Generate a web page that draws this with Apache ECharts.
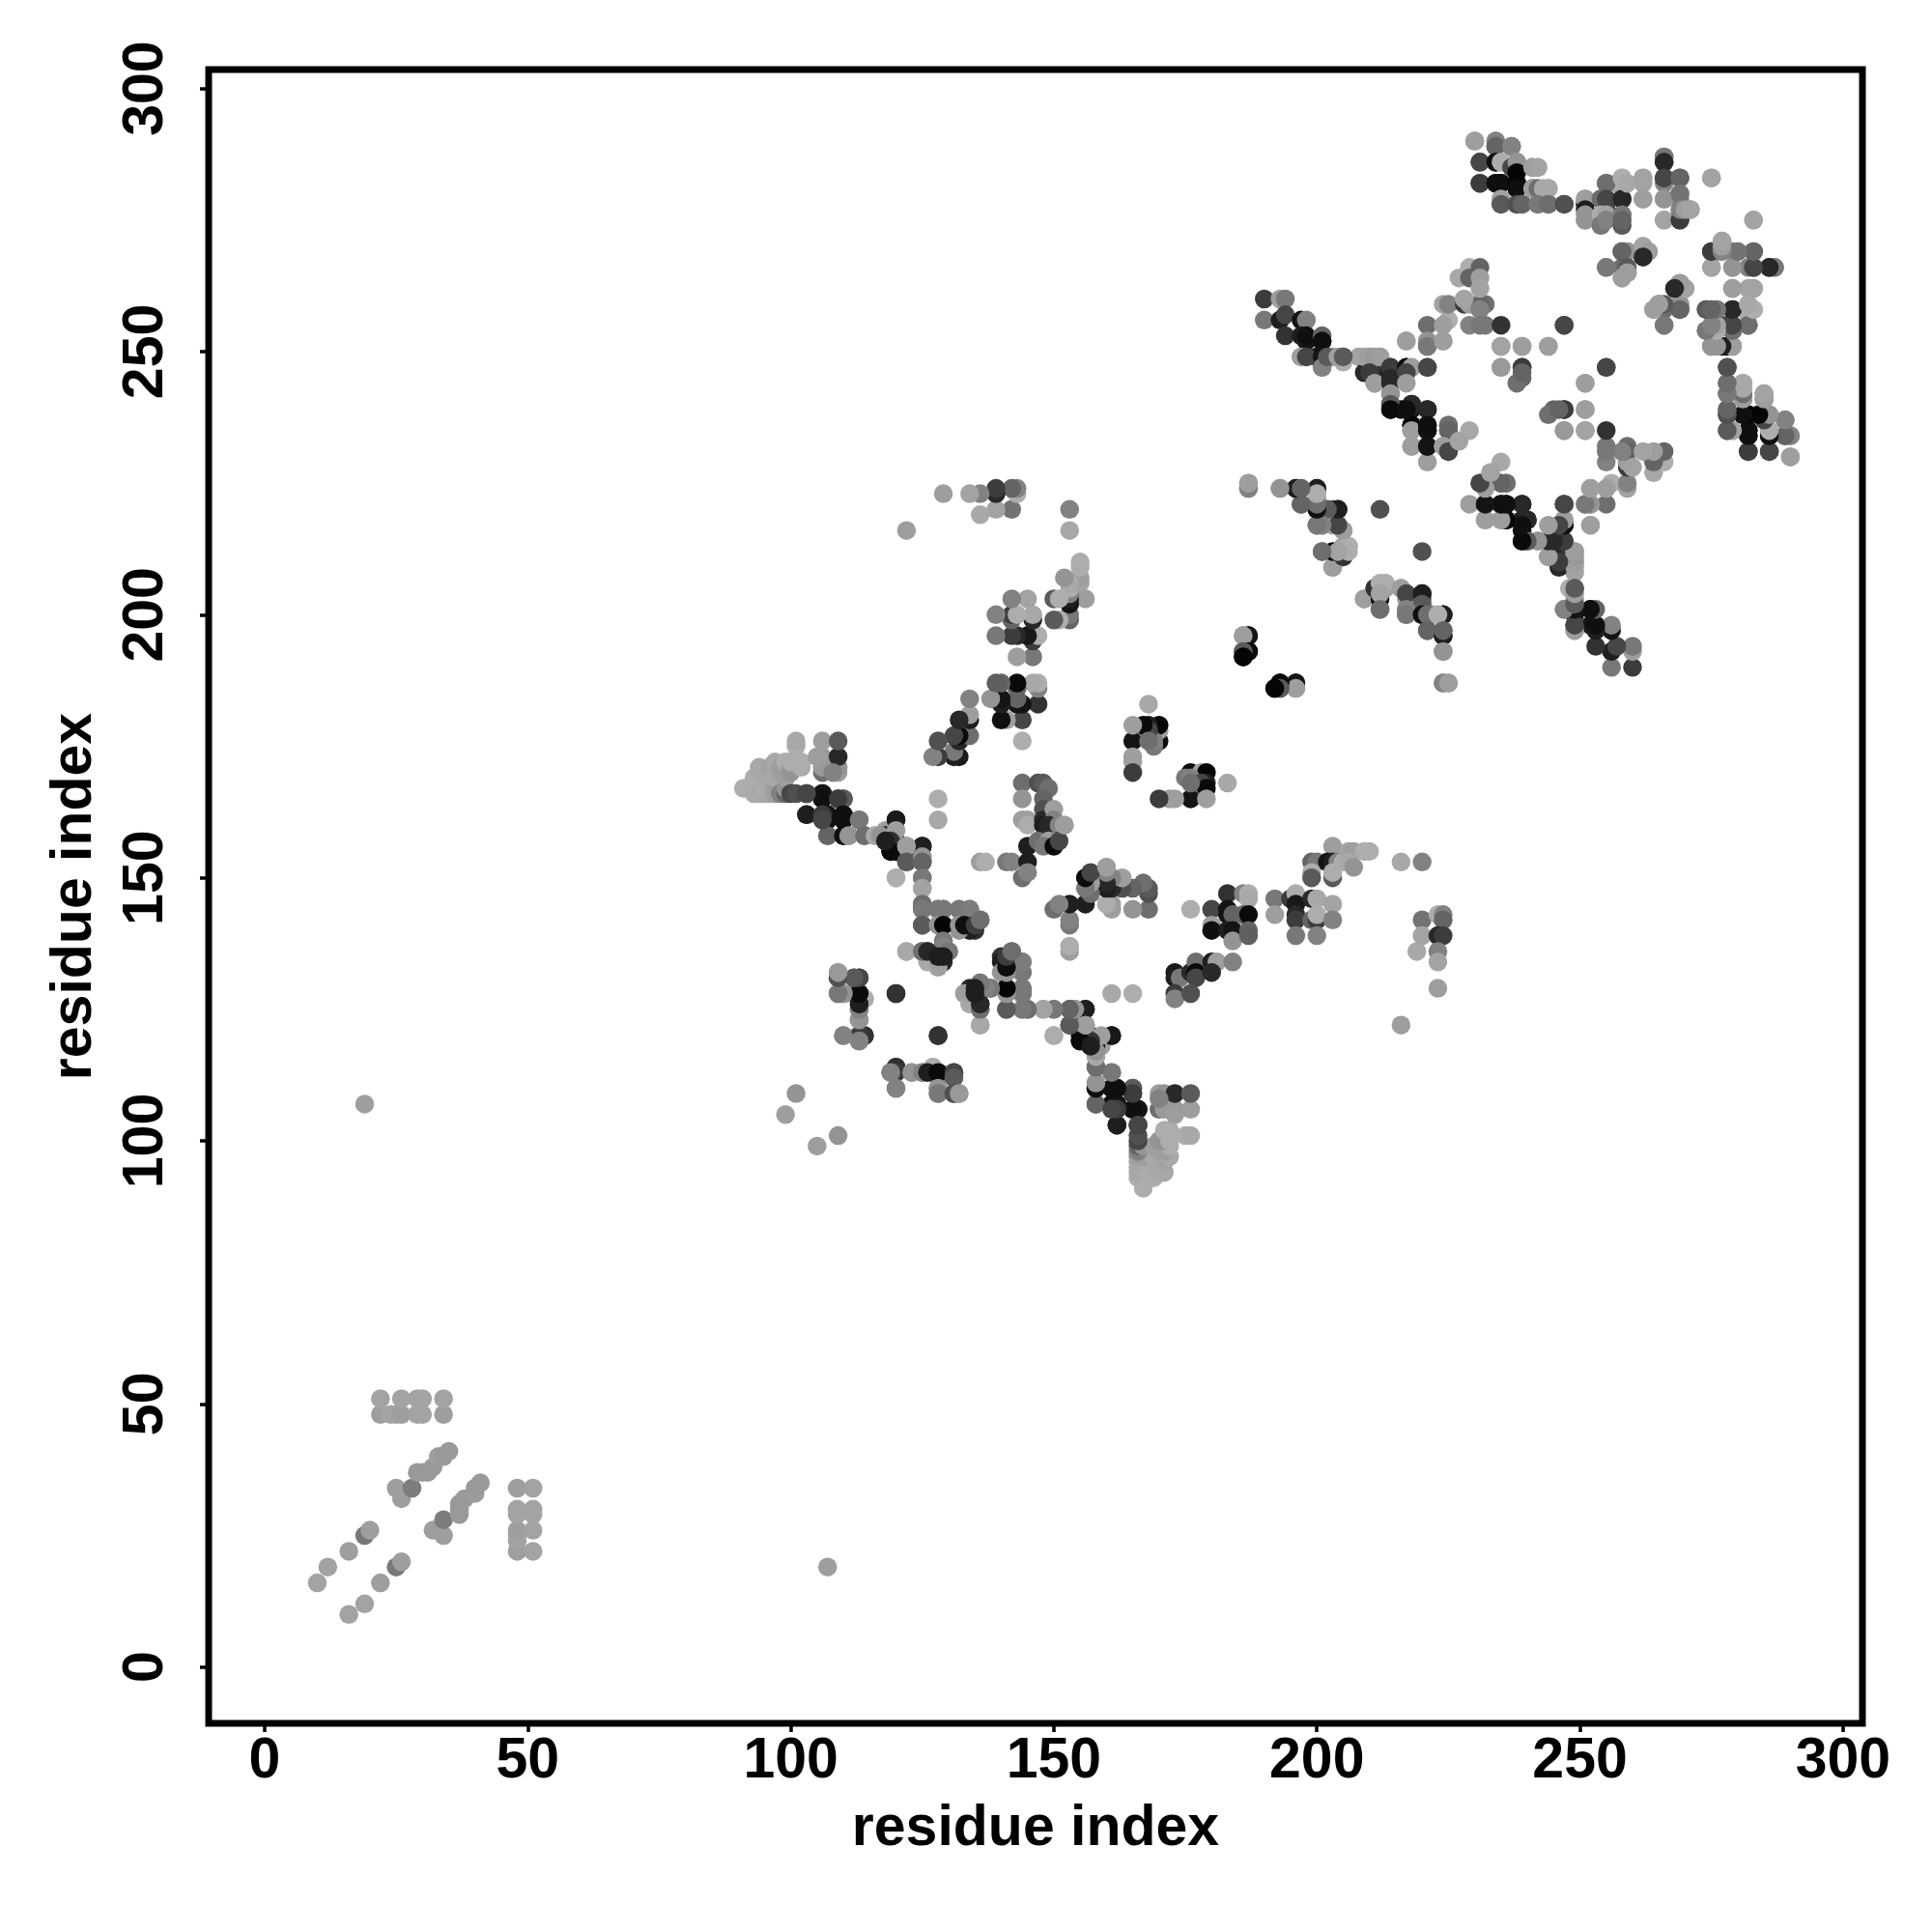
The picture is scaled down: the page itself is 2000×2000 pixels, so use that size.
<!DOCTYPE html>
<html><head><meta charset="utf-8">
<style>html,body{margin:0;padding:0;background:#fff}#c{width:2000px;height:2000px}</style>
<script src="https://cdn.jsdelivr.net/npm/echarts@6/dist/echarts.min.js"></script>
</head><body><div id="c"></div>
<script>
const tickValues=[0,50,100,150,200,250,300];
const axisTitle="residue index";
// contacts as [residue a, residue b, grey level]; the map is symmetric about the diagonal
const nearOrigin=[[16,10,155],[19,12,155],[22,16,150],[25,19,120],[26,20,150],[32,26,150],[34,25,150],[34,28,125],[37,29,145],[37,30,145],[37,31,145],[38,32,145],[40,33,150],[40,34,145],[41,35,145],[48,22,150],[51,22,155],[48,24,155],[48,25,155],[48,26,150],[51,26,155],[48,29,155],[51,29,155],[48,30,155],[51,30,155],[48,34,150],[51,34,155],[107,19,150]];
const lightColumn=[[167,91,165],[166,93,165],[167,93,165],[168,93,165],[169,93,165],[166,94,160],[170,94,160],[171,94,160],[166,95,160],[167,95,165],[169,95,160],[166,96,160],[170,96,160],[171,96,155],[166,97,150],[167,97,150],[169,97,160],[172,97,160],[166,98,130],[170,98,155],[171,98,150],[166,99,100],[167,99,140],[169,99,150],[172,99,165],[166,100,70],[170,100,140],[171,100,140],[172,100,165],[166,101,80],[171,102,165],[172,102,165],[175,101,165],[176,101,160],[166,103,50],[162,103,30],[109,101,140],[105,99,150],[170,106,110],[171,106,145],[173,106,145],[176,106,150],[170,109,150],[171,109,140],[173,109,40],[176,109,90],[173,105,150],[170,108,130]];
const stemRows=[[158,107,90],[158,110,10],[158,111,130],[158,114,90],[161,113,140],[158,116,150],[161,107,10],[162,106,150],[162,107,60],[161,110,15],[162,110,15],[165,110,90],[165,109,40],[165,106,5],[166,106,20],[159,118,150],[157,118,20],[158,118,20],[155,119,5],[155,120,10],[157,120,40],[161,120,20],[150,120,165],[153,122,90],[154,122,70],[156,122,150],[141,125,80],[144,125,120],[145,125,100],[148,125,150],[150,125,130],[153,125,90],[154,125,130],[156,125,30],[161,128,160],[165,128,165]];
const midRows=[[142,136,120],[140,135,50],[140,134,30],[141,134,30],[144,134,125],[144,132,130],[140,132,140],[141,132,130],[141,129,10],[144,129,110],[144,128,80],[136,130,110],[134,129,40],[135,129,40],[138,129,125],[133,128,150],[136,126,40],[136,125,70],[134,126,160],[136,122,160],[153,136,150],[153,137,165],[153,141,120],[153,142,130]];
const leftBlock=[[109,132,150],[109,131,100],[112,131,110],[113,131,70],[109,128,140],[110,128,150],[112,128,130],[113,128,10],[114,127,150],[113,125,120],[113,123,130],[110,120,130],[113,120,40],[114,120,40],[113,119,100],[120,128,50],[128,120,50],[120,114,50],[120,113,60],[119,113,130],[123,113,140],[125,113,130],[127,114,165],[126,113,30],[128,113,10],[131,113,70],[131,112,90],[120,110,130],[128,110,140],[128,109,120],[131,109,80],[132,109,145]];
const crossArm=[[103,162,30],[106,166,20],[106,165,15],[103,166,70],[107,162,20],[106,162,60],[110,165,90],[109,165,60],[110,162,15],[110,161,15],[113,161,120],[107,158,100],[110,158,15],[111,158,140],[106,161,70],[114,158,110],[116,158,160],[117,158,140],[120,161,25],[120,159,150],[119,157,50],[119,155,10],[118,157,30],[122,156,150],[125,156,30]];
const tail=[[122,156,150],[122,153,90],[125,154,140],[125,153,100],[125,150,120],[125,148,155],[125,145,110],[125,144,120],[125,141,90],[128,144,120],[129,144,120],[132,144,120],[134,144,125],[128,141,140],[129,141,5],[132,141,140],[133,141,15],[135,141,60],[136,142,110],[129,138,120],[129,137,130],[130,136,120],[122,136,160],[125,136,110],[126,136,40],[128,134,150],[128,135,30],[129,135,30],[120,150,165]];
const stairRows=[[156,145,30],[153,145,30],[150,144,110],[151,145,130],[168,144,110],[165,144,140],[161,144,150],[161,145,150],[160,145,165],[168,147,80],[168,148,90],[167,149,110],[165,148,100],[163,148,80],[161,148,40],[163,150,150],[161,150,130],[160,148,30],[160,149,40],[160,151,130],[160,152,155],[157,147,110],[157,149,150],[156,148,120],[156,150,10],[157,151,70],[152,160,150]];
const centerTop=[[183,147,50],[186,147,130],[187,147,165],[187,146,160],[180,144,70],[176,144,165],[183,144,20],[180,141,150],[180,140,15],[183,143,20],[184,143,100],[186,143,100],[187,143,10],[183,140,30],[184,140,20],[184,138,140],[187,140,100],[187,139,95],[192,146,120],[192,143,150],[195,146,60],[196,147,165],[196,145,25],[196,143,40],[196,142,60],[196,139,120],[199,146,40],[200,146,160],[203,145,155],[199,142,100],[200,142,60],[200,143,165],[203,142,130],[200,139,130]];
const centerHigh=[[199,153,100],[200,153,120],[199,151,165],[199,150,90],[203,156,150],[202,153,20],[203,153,30],[204,153,130],[203,150,90],[203,151,165],[205,153,165],[206,155,155],[207,155,150],[209,155,165],[210,155,165],[206,153,160],[207,152,140],[216,153,160],[220,153,130]];
const centerFar=[[220,142,115],[223,143,165],[224,143,130],[224,142,100],[220,139,155],[223,139,40],[224,139,60],[219,136,160],[223,136,130],[223,134,155],[223,129,150],[216,122,150]];
const centerLow=[[173,132,25],[173,131,30],[174,131,120],[176,132,40],[177,134,110],[177,132,10],[177,131,70],[180,134,30],[181,134,150],[180,132,40],[184,134,130],[173,128,60],[173,127,130],[176,128,80]];
const nearDiagonal=[[176,170,10],[178,170,150],[179,170,5],[175,169,120],[176,169,130],[179,168,30],[178,168,70],[179,167,10],[183,168,160],[176,165,20],[179,165,150],[172,165,150],[173,165,150],[170,165,60],[176,168,110]];
const midRightA=[[187,225,165],[187,224,140],[193,224,140],[196,224,50],[197,224,100],[200,224,40],[200,222,140],[197,221,100],[200,220,40],[201,220,130],[203,220,100],[204,220,40],[200,217,130],[201,217,130],[203,217,155],[204,217,70],[205,216,155],[201,212,100],[204,212,150],[205,213,155],[206,213,160],[204,211,30],[205,211,60],[203,209,150],[212,220,80]];
const midRightB=[[209,203,150],[211,205,50],[212,203,10],[212,206,165],[213,206,165],[212,204,155],[212,201,110],[216,205,150],[217,204,70],[220,204,30],[220,202,90],[217,201,130],[217,200,120],[220,200,15],[221,200,110],[224,200,30],[223,200,165],[221,197,100],[224,196,30],[224,197,100],[224,193,140],[224,187,130],[225,187,150]];
const isolated=[[196,187,20],[196,186,130],[193,187,10],[193,186,90],[192,186,5],[187,196,20],[186,196,150],[187,193,10],[186,193,90],[186,192,5]];
const lowerBridge=[[229,221,150],[232,225,10],[231,225,100],[233,227,160],[235,229,160],[235,225,100],[236,225,120],[232,221,25],[235,221,15],[236,221,15],[239,221,30],[232,218,150],[235,218,150],[236,218,5],[239,218,30],[240,218,50],[239,216,15],[239,214,10],[240,214,100],[242,214,150],[244,214,155],[244,211,150],[245,214,40],[247,221,70],[247,218,165],[247,217,10],[247,214,70],[245,211,60],[247,211,50],[249,212,150],[249,210,140],[249,208,155],[248,210,100],[245,213,40],[246,209,40],[252,224,150],[251,221,150],[252,221,120],[252,217,150],[249,205,90],[248,205,165],[249,203,150],[247,201,140],[249,201,70],[249,200,15],[252,201,20],[249,198,70],[249,197,150],[252,198,20]];
const upperRows=[[190,260,60],[193,260,150],[194,260,120],[190,256,120],[193,256,30],[194,257,70],[197,256,20],[198,256,130],[194,253,50],[197,253,30],[198,253,15],[201,253,100],[201,252,15],[197,249,150],[198,249,70],[201,249,20],[201,247,130],[202,249,90],[204,249,150],[205,249,90],[209,249,155],[210,249,150],[211,249,145],[212,249,150],[210,246,60],[211,244,150],[214,247,60],[214,245,40],[214,244,40],[214,242,140],[214,240,90],[214,239,10],[217,247,15],[218,247,150],[217,246,70],[217,244,150],[221,247,70],[218,240,40],[218,236,5],[218,235,150],[218,232,150],[217,239,15],[221,239,40],[221,236,15],[221,235,15],[221,232,20],[225,236,110],[225,235,100],[224,232,150],[225,231,70],[227,233,155],[217,252,150],[221,255,110],[221,252,140],[221,251,120],[224,252,150],[225,256,165],[224,255,150],[224,259,155],[225,259,130],[228,259,60],[229,259,150],[232,259,110],[231,259,100],[227,264,160],[229,266,165],[231,266,100],[229,264,100],[231,264,150],[231,262,155],[228,260,155],[231,258,130],[229,255,130],[231,255,120],[232,255,120],[235,255,50],[247,255,90],[235,251,150],[239,251,140],[244,251,150],[235,247,140],[239,247,50],[239,245,100],[238,244,110],[247,239,60],[246,239,100],[251,244,150],[251,239,150],[251,235,155],[247,235,145],[255,247,70]];
const southEast=[[278,247,100],[278,244,120],[278,242,120],[281,244,155],[281,241,110],[285,242,140],[285,241,90],[278,239,100],[278,238,70],[281,238,10],[282,238,5],[286,238,140],[285,238,15],[289,237,110],[278,235,110],[279,235,155],[282,235,10],[282,234,10],[286,235,160],[286,234,10],[289,234,70],[290,234,140],[282,231,70],[286,231,70],[290,230,140],[274,258,110],[275,258,130],[276,258,125],[279,258,40],[282,258,155],[283,258,165],[282,257,165],[274,254,120],[275,254,130],[276,254,120],[278,255,70],[279,255,50],[279,254,60],[282,255,110],[275,251,140],[278,251,10],[279,251,150],[279,262,155],[282,262,155],[283,262,155],[275,266,150],[279,266,140],[282,266,130],[283,266,60],[286,266,40],[287,266,130],[277,271,155],[275,269,70],[276,269,130],[279,269,130],[280,269,140],[283,269,110],[283,275,155]];
const farTop=[[231,286,70],[230,290,150],[234,290,130],[234,289,100],[237,289,130],[234,286,15],[235,286,165],[237,285,70],[238,286,140],[238,284,5],[241,285,150],[242,285,155],[231,282,60],[234,282,15],[235,282,15],[238,282,5],[238,281,15],[241,281,150],[242,281,110],[243,281,160],[244,281,160],[235,279,155],[235,278,90],[238,278,80],[239,278,100],[242,278,120],[244,278,110],[247,278,80],[251,279,150],[251,277,30],[251,276,140],[251,275,140],[255,282,110],[254,279,110],[255,279,70],[255,277,70],[254,276,165],[255,276,155],[254,274,120],[255,275,130],[258,279,40],[258,276,120],[258,274,90],[258,275,100],[258,283,165],[259,282,160],[262,283,155],[262,279,150],[266,287,120],[266,286,40],[266,283,70],[269,283,100],[266,279,140],[269,280,115],[266,275,155],[269,275,60],[269,277,130],[270,277,150],[271,277,155],[275,283,155]];
const farCorner=[[269,263,155],[270,262,160],[268,262,50],[264,258,150],[265,259,100],[266,255,130],[266,258,110],[269,259,130],[269,258,70],[259,269,140],[258,269,100],[262,270,155],[263,269,150],[262,268,40],[255,266,120],[259,266,90],[258,264,150],[259,265,150]];
const groups=[nearOrigin,lightColumn,stemRows,midRows,leftBlock,crossArm,tail,stairRows,centerTop,centerHigh,centerFar,centerLow,nearDiagonal,midRightA,midRightB,isolated,lowerBridge,upperRows,southEast,farTop,farCorner];
const pts=[];
groups.forEach(g=>g.forEach(r=>pts.push([Math.max(r[0],r[1]),Math.min(r[0],r[1]),r[2]])));
const points=pts.concat(pts.map(r=>[r[1],r[0],r[2]]));
const font="'Liberation Sans',Helvetica,Arial,sans-serif";
function shade(g){const v=g>=140?g+8:g;return 'rgb('+v+','+v+','+v+')';}
function axis(min,max,isY){return {
  type:'value',min:min,max:max,
  name:axisTitle,nameLocation:'middle',nameGap:isY?109:80,
  nameTextStyle:{fontFamily:font,fontWeight:'bold',fontSize:59,color:'#000'},
  axisLine:{show:false,onZero:false},splitLine:{show:false},
  axisTick:{show:true,length:9,inside:false,customValues:tickValues,lineStyle:{color:'#000',width:3.5}},
  axisLabel:{show:true,customValues:tickValues,rotate:isY?90:0,margin:isY?35:10,fontFamily:font,fontWeight:'bold',fontSize:59,color:'#000',hideOverlap:false}
};}
echarts.init(document.getElementById('c'),null,{renderer:'canvas'}).setOption({
  animation:false,backgroundColor:'#fff',
  grid:{left:216,top:72,width:1712,height:1712,show:true,borderColor:'#000',borderWidth:7,backgroundColor:'#fff',containLabel:false},
  xAxis:axis(-10.65,303.7,false),
  yAxis:axis(-10.7,303.6,true),
  series:[{type:'scatter',data:points,symbol:'circle',symbolSize:19.5,progressive:0,
    itemStyle:{opacity:1,color:p=>shade(p.value[2])}}]
});
</script></body></html>
